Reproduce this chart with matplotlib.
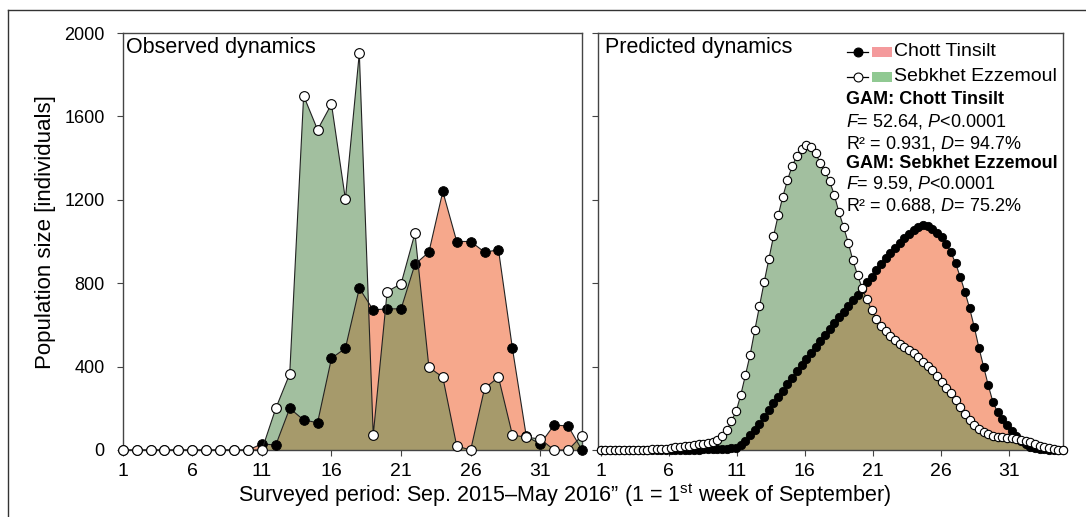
import numpy as np
import matplotlib
matplotlib.use('Agg')
import matplotlib.pyplot as plt
from matplotlib.lines import Line2D
from matplotlib.patches import Rectangle

plt.rcParams['font.family'] = ['Liberation Sans', 'DejaVu Sans']
plt.rcParams['mathtext.fontset'] = 'custom'
plt.rcParams['mathtext.rm'] = 'Liberation Sans'
plt.rcParams['mathtext.it'] = 'Liberation Sans:italic'
plt.rcParams['mathtext.bf'] = 'Liberation Sans:bold'

# ---------------- data ----------------
weeks_obs = np.arange(1, 35)
chott_obs = [0, 0, 0, 0, 0, 0, 0, 0, 0, 0,
             29, 24, 200, 144, 131, 440, 488, 776, 672, 677,
             677, 891, 949, 1240, 1000, 1000, 949, 960, 488, 65,
             29, 120, 115, 0]
sebkhet_obs = [0, 0, 0, 0, 0, 0, 0, 0, 0, 0,
               0, 200, 365, 1699, 1536, 1659, 1203, 1904, 72, 760,
               797, 1040, 397, 349, 19, 0, 296, 349, 72, 61,
               53, 0, 0, 69]

weeks_pred = np.linspace(1, 35, 100)
chott_pred = [0, 0, 0, 0, 0, 0, 0, 0, 0, 0,
              0, 0, 0, 0, 0, 0, 0, 0, 1, 1,
              2, 2, 3, 3, 4, 4, 5, 6, 8, 10,
              22, 45, 70, 95, 125, 160, 192, 225, 255, 285,
              316, 347, 378, 408, 438, 466, 494, 522, 553, 582,
              610, 637, 663, 690, 718, 745, 773, 805, 832, 862,
              892, 920, 945, 970, 995, 1017, 1038, 1055, 1068, 1077,
              1075, 1062, 1042, 1020, 990, 948, 895, 830, 758, 680,
              590, 490, 400, 310, 230, 180, 148, 118, 90, 66,
              45, 28, 16, 9, 5, 3, 2, 1, 0, 0]
sebkhet_pred = [0, 0, 0, 0, 0, 0, 1, 1, 1, 2,
                2, 3, 4, 6, 7, 9, 12, 14, 17, 20,
                24, 27, 31, 35, 40, 48, 66, 95, 140, 185,
                265, 360, 457, 575, 690, 805, 915, 1025, 1125, 1215,
                1295, 1362, 1410, 1445, 1461, 1452, 1424, 1378, 1338, 1290,
                1225, 1142, 1070, 995, 910, 840, 775, 722, 672, 630,
                597, 570, 548, 527, 508, 492, 478, 463, 444, 424,
                404, 382, 356, 326, 298, 272, 240, 208, 172, 145,
                122, 100, 86, 77, 68, 64, 61, 58, 56, 54,
                50, 44, 36, 28, 20, 14, 8, 4, 1, 0]

xticks = [1, 6, 11, 16, 21, 26, 31]
yticks = [0, 400, 800, 1200, 1600, 2000]
legend_labels = ['Chott Tinsilt', 'Sebkhet Ezzemoul']
gam_lines = ['GAM: Chott Tinsilt',
             r'$\mathit{F}$= 52.64, $\mathit{P}$<0.0001',
             r'R² = 0.931, $\mathit{D}$= 94.7%',
             'GAM: Sebkhet Ezzemoul',
             r'$\mathit{F}$= 9.59, $\mathit{P}$<0.0001',
             r'R² = 0.688, $\mathit{D}$= 75.2%']

# ---------------- style ----------------
GREEN = '#a2bf9f'
SALMON = '#f6a88c'
OLIVE = '#a69a6b'
LEG_PINK = '#f49a9c'
LEG_GREEN = '#90c992'
SPINE = '#444444'

W, H = 1086, 517
fig = plt.figure(figsize=(W / 100, H / 100), dpi=100)


def fx(p):
    return p / W


def fy(p):
    return 1 - p / H


axL = fig.add_axes([fx(122.7), fy(450), (582 - 122.7) / W, (450 - 33) / H])
axR = fig.add_axes([fx(598), fy(450), (1063 - 598) / W, (450 - 33) / H])


def draw(ax, x, chott, seb, ms, lw):
    x = np.asarray(x, float)
    chott = np.asarray(chott, float)
    seb = np.asarray(seb, float)
    g = ax.fill_between(x, 0, seb, facecolor=GREEN, edgecolor='none', zorder=1)
    ax.fill_between(x, 0, chott, facecolor=SALMON, edgecolor='none', zorder=1.1)
    o = ax.fill_between(x, 0, chott, facecolor=OLIVE, edgecolor='none', zorder=1.2)
    o.set_clip_path(g.get_paths()[0], ax.transData)
    ax.plot(x, chott, '-', color='#222222', lw=lw, marker='o', ms=ms,
            mfc='black', mec='black', mew=0.6, zorder=3, clip_on=False)
    ax.plot(x, seb, '-', color='#222222', lw=lw, marker='o', ms=ms,
            mfc='white', mec='black', mew=0.8, zorder=4, clip_on=False)


draw(axL, weeks_obs, chott_obs, sebkhet_obs, 7.0, 0.8)
draw(axR, weeks_pred, chott_pred, sebkhet_pred, 6.0, 0.8)

axL.set_xlim(1, 34)
axR.set_xlim(0.8, 35.0)
for ax in (axL, axR):
    ax.set_ylim(0, 2000)
    ax.set_xticks(xticks)
    ax.set_xticklabels([str(t) for t in xticks])
    ax.set_yticks(yticks)
    for s in ax.spines.values():
        s.set_color(SPINE)
        s.set_linewidth(1.0)
    ax.tick_params(direction='out', length=4, width=0.8, color=SPINE,
                   top=False, right=False)
    ax.tick_params(axis='x', labelsize=14, pad=5)
    ax.tick_params(axis='y', labelsize=13, pad=9)
axR.tick_params(axis='y', labelleft=False)

# panel titles
fig.text(fx(126), fy(48), 'Observed dynamics', fontsize=15.5, va='center', ha='left')
fig.text(fx(605), fy(48), 'Predicted dynamics', fontsize=15.5, va='center', ha='left')

# axis labels
fig.text(fx(46), fy(232), 'Population size [individuals]', fontsize=16,
         rotation=90, va='center', ha='center')
fig.text(fx(565), fy(495),
         'Surveyed period: Sep. 2015\u2013May 2016\u201d (1 = 1$^{\\mathrm{st}}$ week of September)',
         fontsize=15.5, va='center', ha='center')

# legend (manual)
rows_y = [51.7, 76.7]
mfcs = ['black', 'white']
patch_cols = [LEG_PINK, LEG_GREEN]
for y, mfc, pc, lab in zip(rows_y, mfcs, patch_cols, legend_labels):
    fig.add_artist(Line2D([fx(847), fx(868)], [fy(y), fy(y)], color='black', lw=0.9))
    fig.add_artist(Line2D([fx(857.5)], [fy(y)], marker='o', ms=6.4, mfc=mfc,
                          mec='black', mew=0.8, lw=0))
    fig.add_artist(Rectangle((fx(872), fy(y + 5)), (892 - 872) / W, 10 / H,
                             facecolor=pc, edgecolor='none', transform=fig.transFigure))
    fig.text(fx(894), fy(y), lab, fontsize=14, va='center', ha='left')

gam_y = [100, 121.7, 143.3, 163.3, 183.3, 205]
for y, t in zip(gam_y, gam_lines):
    bold = t.startswith('GAM')
    fig.text(fx(846), fy(y), t, fontsize=13, va='center', ha='left',
             fontweight='bold' if bold else 'normal')

# figure frame lines (top and left)
fig.add_artist(Line2D([fx(8), fx(8)], [fy(10), 0], color='#333333', lw=1.0))
fig.add_artist(Line2D([fx(8), 1], [fy(10), fy(10)], color='#333333', lw=1.0))

fig.savefig('out.png', dpi=100)
